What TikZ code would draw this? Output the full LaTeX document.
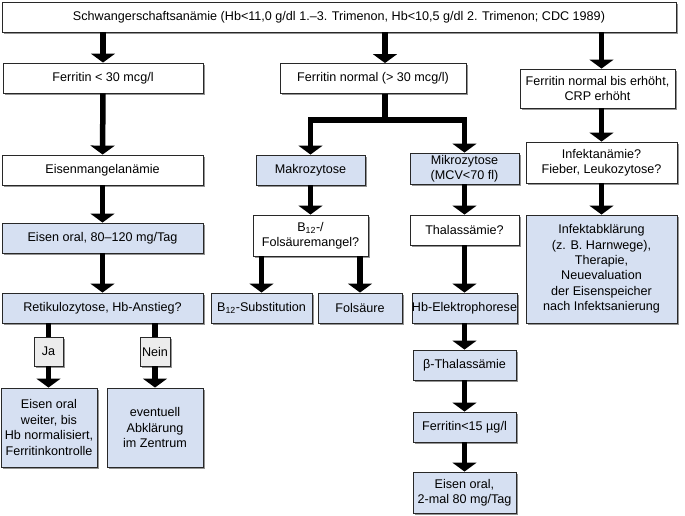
\documentclass[tikz,border=0pt]{standalone}
\usepackage{fontspec}
\setmainfont{Liberation Sans}
\usepackage{tikz}
\usetikzlibrary{arrows.meta,shapes,positioning,shadows}
\usepackage{xcolor}
\definecolor{flowblue}{RGB}{214,224,242}
\definecolor{flowgrey}{RGB}{236,236,236}
\definecolor{flowline}{RGB}{40,40,40}
\tikzstyle{arrow} = [line width=5.5pt,-{Triangle[width=24pt,length=9pt]},color=black]
\tikzstyle{shaft} = [line width=5.5pt,color=black]
\tikzstyle{whitebox} = [rectangle, draw=flowline, fill=white, line width=0.9pt, align=center, inner sep=1pt, text centered, drop shadow={shadow xshift=2pt,shadow yshift=-2pt,fill=black!60,opacity=0.7}]
\tikzstyle{bluebox} = [whitebox, fill=flowblue]
\tikzstyle{tagbox} = [whitebox, fill=flowgrey]

\begin{document}
\begin{tikzpicture}[x=1pt, y=-1pt, font=\fontsize{12.6}{15.4}\selectfont]
\useasboundingbox (0,0) rectangle (685,516);
% top line
\node (top) [whitebox, minimum width=674, minimum height=30] at (339,17) {Schwangerschaftsanämie (Hb<11,0 g/dl 1.–3. Trimenon, Hb<10,5 g/dl 2. Trimenon; CDC 1989)};
\node (ferritinlow) [whitebox, minimum width=200, minimum height=30] at (103,78) {Ferritin < 30 mcg/l};
\node (ferritinnorm) [whitebox, minimum width=186, minimum height=30] at (373,78.5) {Ferritin normal (> 30 mcg/l)};
\node (crp) [whitebox, minimum width=155, minimum height=39] at (597.5,88.5) {Ferritin normal bis erhöht,\\CRP erhöht};

% Eisenmangel
\node (eisenmangel) [whitebox, minimum width=201, minimum height=30] at (102.5,170) {Eisenmangelanämie};
\node (eisenoral) [bluebox, minimum width=201, minimum height=30] at (102.5,238) {Eisen oral, 80–120 mg/Tag};
\node (retik) [bluebox, minimum width=201, minimum height=30] at (102.5,308) {Retikulozytose, Hb-Anstieg?};
\node (ja) [tagbox, minimum width=29, minimum height=29] at (48.5,351.5) {Ja};
\node (nein) [tagbox, minimum width=30, minimum height=29] at (155,351.5) {Nein};
\node (eisenweiter) [bluebox, minimum width=96, minimum height=79] at (49,427.5) {Eisen oral\\weiter, bis\\Hb normalisiert,\\Ferritinkontrolle};
\node (eventuell) [bluebox, minimum width=96, minimum height=79] at (155,427.5) {eventuell\\Abklärung\\im Zentrum};

% Makro-/Mikrozytose
\node (makro) [bluebox, minimum width=109, minimum height=30] at (310.5,170) {Makrozytose};
\node (folmangel) [whitebox, minimum width=115, minimum height=41] at (310.5,235.5) {B\textsubscript{12}-/\\Folsäuremangel?};
\node (bzwoelf) [bluebox, minimum width=101, minimum height=30] at (261.5,308) {B\textsubscript{12}-Substitution};
\node (folsaeure) [bluebox, minimum width=84, minimum height=30] at (360,308) {Folsäure};
\node (mikro) [bluebox, minimum width=109, minimum height=31] at (464.5,168.5) {Mikrozytose\\(MCV<70 fl)};
\node (thal) [whitebox, minimum width=109, minimum height=30] at (464.5,230) {Thalassämie?};
\node (hbelek) [bluebox, minimum width=103, minimum height=30, inner xsep=0pt] at (464.5,308) {Hb-Elektrophorese};
\node (betathal) [bluebox, minimum width=103, minimum height=30] at (464.5,365) {β-Thalassämie};
\node (ferrfuenfzehn) [bluebox, minimum width=103, minimum height=30] at (464.5,427) {Ferritin<15 µg/l};
\node (eisenzweimal) [bluebox, minimum width=103, minimum height=41] at (464.5,492.5) {Eisen oral,\\2-mal 80 mg/Tag};

% Infekt
\node (infektan) [whitebox, minimum width=151, minimum height=41] at (601.5,162.5) {Infektanämie?\\Fieber, Leukozytose?};
\node (infektab) [bluebox, minimum width=151, minimum height=108] at (601.5,269) {Infektabklärung\\(z. B. Harnwege),\\Therapie,\\Neuevaluation\\der Eisenspeicher\\nach Infektsanierung};

\coordinate (fnin) at ([xshift=12]ferritinnorm.north);
\coordinate (fork) at ([xshift=12]ferritinnorm.south |- 0,120);

\draw[arrow] (top.south -| ferritinlow) -- (ferritinlow);
\draw[arrow] (top.south -| fnin) -- (fnin);
\draw[arrow] (top.south -| infektan) -- (crp.north -| infektan);

\draw[arrow] (ferritinlow) -- (eisenmangel);
\draw[arrow] (eisenmangel) -- (eisenoral);
\draw[arrow] (eisenoral) -- (retik);
\draw[shaft] (retik.south -| ja) -- (ja);
\draw[arrow] (ja) -- (eisenweiter.north -| ja);
\draw[shaft] (retik.south -| nein) -- (nein);
\draw[arrow] (nein) -- (eventuell);

\draw[shaft] (ferritinnorm.south -| fork) -- (fork);
\draw[arrow, line join=miter] (fork) -| (makro);
\draw[arrow, line join=miter] (fork) -| (mikro);
\draw[arrow] (makro) -- (folmangel);
\draw[arrow] (folmangel.south -| bzwoelf) -- (bzwoelf);
\draw[arrow] (folmangel.south -| folsaeure) -- (folsaeure);

\draw[arrow] (mikro) -- (thal);
\draw[arrow] (thal) -- (hbelek);
\draw[arrow] (hbelek) -- (betathal);
\draw[arrow] (betathal) -- (ferrfuenfzehn);
\draw[arrow] (ferrfuenfzehn) -- (eisenzweimal);

\draw[arrow] (crp.south -| infektan) -- (infektan);
\draw[arrow] (infektan) -- (infektab);
\end{tikzpicture}
\end{document}
